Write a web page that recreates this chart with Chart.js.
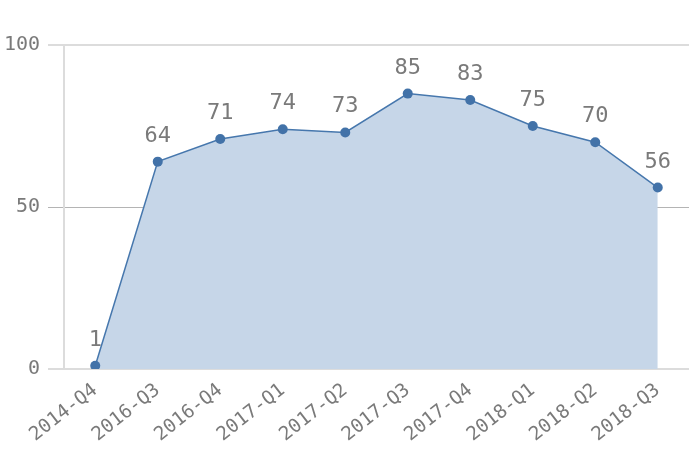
<!DOCTYPE html>
<html>
<head>
<meta charset="utf-8">
<script src="https://cdn.jsdelivr.net/npm/chart.js@4"></script>
<style>
    html, body { margin: 0; padding: 0; background: #ffffff; }
    #wrap { width: 689px; height: 459px; }
</style>
</head>
<body>
<div id="wrap"><canvas id="lineChart" width="689" height="459"></canvas></div>
<script>
const quarters = ['2014-Q4', '2016-Q3', '2016-Q4', '2017-Q1', '2017-Q2', '2017-Q3', '2017-Q4', '2018-Q1', '2018-Q2', '2018-Q3'];
const scores = [1, 64, 71, 74, 73, 85, 83, 75, 70, 56];
const yTicks = [0, 50, 100];

const monoFont = "'DejaVu Sans Mono', monospace";
const textGray = '#7a7a7a';

// simple value labels above each point (no datalabels plugin offline)
const pointLabels = {
    id: 'pointLabels',
    afterDatasetsDraw(chart) {
        const ctx = chart.ctx;
        const meta = chart.getDatasetMeta(0);
        ctx.save();
        ctx.font = "22px " + monoFont;
        ctx.fillStyle = textGray;
        ctx.textAlign = 'center';
        ctx.textBaseline = 'alphabetic';
        meta.data.forEach((pt, i) => {
            ctx.fillText(String(scores[i]), pt.x, pt.y - 20);
        });
        ctx.restore();
    }
};

new Chart(document.getElementById('lineChart'), {
    type: 'line',
    data: {
        labels: quarters,
        datasets: [{
            data: scores,
            borderColor: '#4677ad',
            backgroundColor: 'rgba(198, 214, 232, 1)',
            fill: 'origin',
            tension: 0,
            borderWidth: 1.5,
            pointRadius: 5,
            pointBackgroundColor: '#4272a8',
            pointBorderColor: '#4272a8',
            pointBorderWidth: 0
        }]
    },
    options: {
        responsive: false,
        animation: false,
        layout: { autoPadding: false, padding: { top: 45, right: 0, left: 0, bottom: 0 } },
        scales: {
            x: {
                offset: true,
                grid: { display: false },
                border: { display: false },
                ticks: {
                    color: textGray,
                    font: { size: 19, family: monoFont },
                    minRotation: 38,
                    maxRotation: 38,
                    autoSkip: false,
                    padding: 2
                },
                afterFit(scale) {
                    scale.height = 90;
                    scale.paddingLeft = 0;
                    scale.paddingRight = 0;
                }
            },
            y: {
                min: 0,
                max: 100,
                afterBuildTicks(scale) { scale.ticks = yTicks.map(v => ({ value: v })); },
                grid: {
                    color: ctx => (ctx.tick && ctx.tick.value === 50) ? '#b4b4b4' : '#dcdcdc',
                    lineWidth: ctx => (ctx.tick && ctx.tick.value === 50) ? 1 : 2,
                    tickLength: 16,
                    drawTicks: true
                },
                border: { display: true, color: '#dcdcdc', width: 2 },
                ticks: {
                    color: textGray,
                    font: { size: 20, family: monoFont },
                    padding: 8
                },
                afterFit(scale) {
                    scale.width = 64;
                    scale.paddingTop = 0;
                    scale.paddingBottom = 0;
                }
            }
        },
        plugins: {
            legend: { display: false },
            tooltip: { enabled: false }
        }
    },
    plugins: [pointLabels]
});
</script>
</body>
</html>
